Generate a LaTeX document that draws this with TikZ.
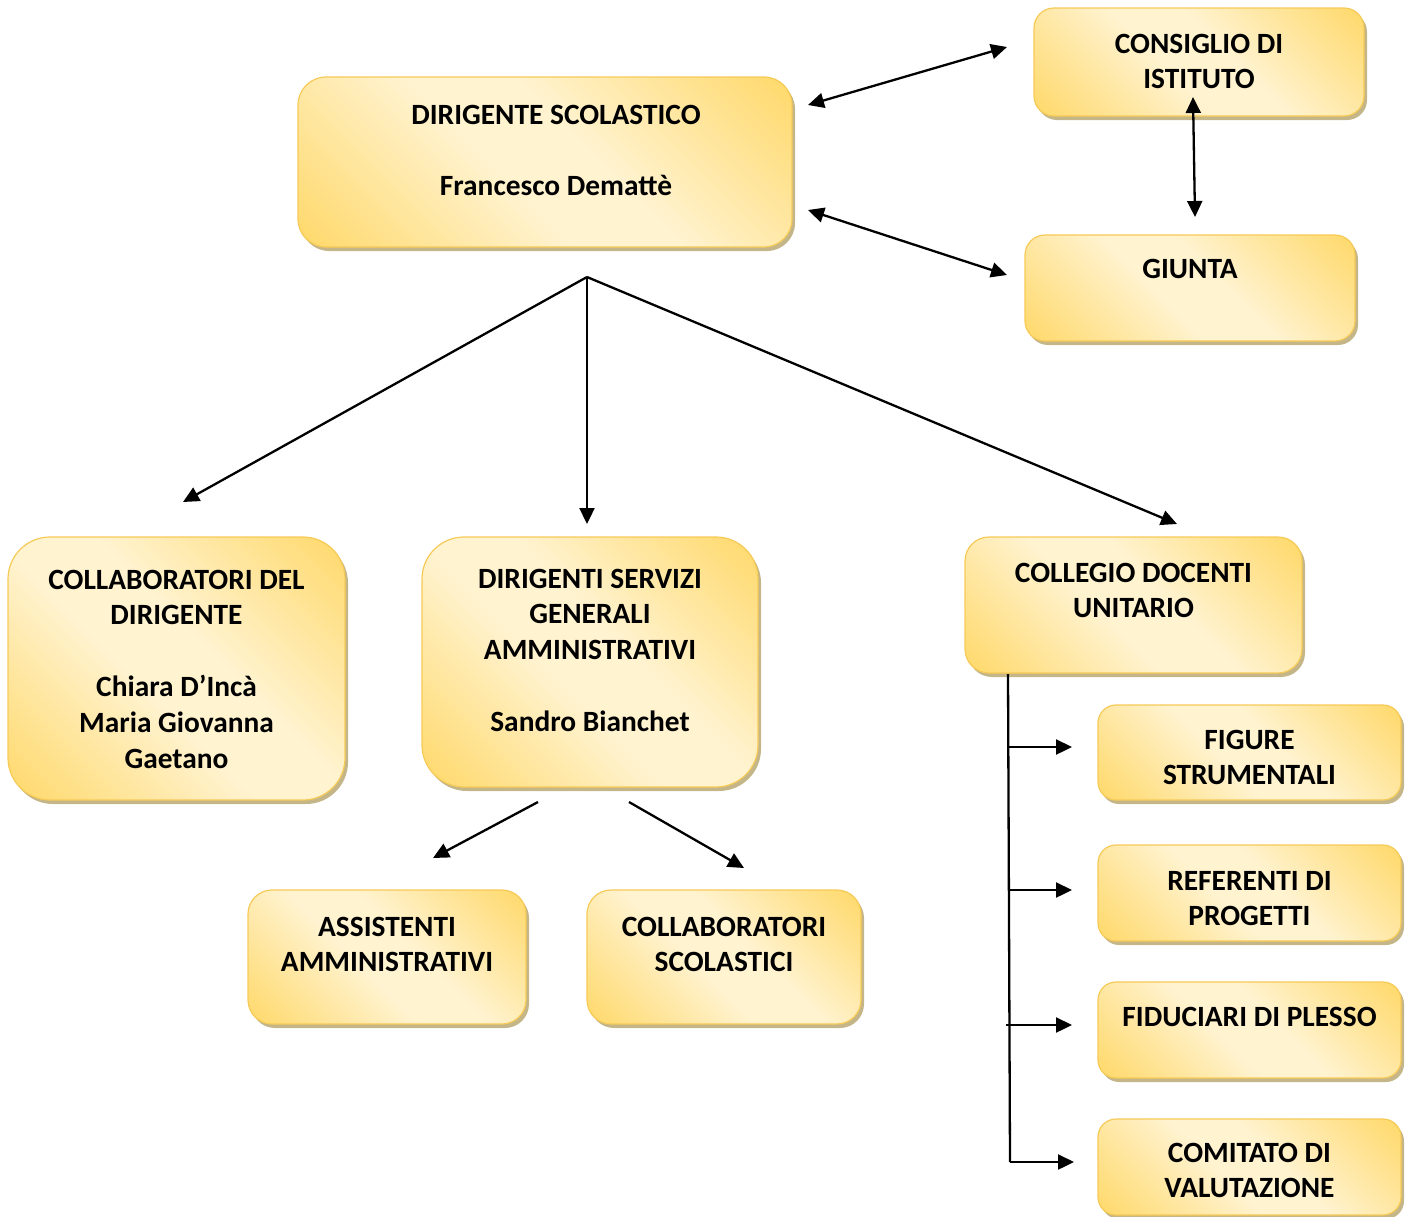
\documentclass[tikz,border=0pt]{standalone}
\usepackage{fontspec}
\setmainfont{Carlito}
\usetikzlibrary{arrows.meta,shadows}
\definecolor{gd}{RGB}{255,214,96}
\definecolor{cr}{RGB}{255,243,208}
\definecolor{bd}{RGB}{246,202,86}
\definecolor{sh}{RGB}{196,182,136}
\pgfdeclarehorizontalshading{goldglow}{100bp}{color(0bp)=(gd); color(12bp)=(gd); color(44bp)=(cr); color(56bp)=(cr); color(88bp)=(gd); color(100bp)=(gd)}
\newcommand\boxtext[4]{\parbox[c][#2pt][t]{#1pt}{\centering\rule{0pt}{#3pt}#4}}
\tikzset{
  orgbox/.style={draw=bd, line width=1.2pt, shading=goldglow, shading angle=45,
    inner sep=0pt, outer sep=0pt, anchor=north west,
    drop shadow={shadow xshift=3pt, shadow yshift=-4pt, fill=sh, opacity=1}},
  conn/.style={line width=2.3pt, -{Triangle[length=16pt,width=15pt]}},
  bothconn/.style={line width=2.3pt, {Triangle[length=16pt,width=15pt]}-{Triangle[length=16pt,width=15pt]}},
  plain/.style={line width=2.3pt}
}
\begin{document}
\begin{tikzpicture}[x=1pt, y=-1pt, font=\fontsize{29.4}{35.8}\selectfont\bfseries]
\useasboundingbox (0,0) rectangle (1413,1216);
% boxes
\node[orgbox, rounded corners=28pt] (ds) at (298,77)
  {\hspace*{22pt}\boxtext{472}{170}{47}{DIRIGENTE SCOLASTICO\\[35.8pt]Francesco Demattè}};
\node[orgbox, rounded corners=20pt] (cons) at (1034,8)
  {\boxtext{330}{108}{45}{CONSIGLIO DI\\ISTITUTO}};
\node[orgbox, rounded corners=20pt] (giunta) at (1025,235)
  {\boxtext{330}{106}{43}{GIUNTA}};
\node[orgbox, rounded corners=42pt] (colldir) at (8,537)
  {\boxtext{337}{263}{52}{COLLABORATORI DEL\\DIRIGENTE\\[35.8pt]Chiara D’Incà\\Maria Giovanna\\Gaetano}};
\node[orgbox, rounded corners=42pt] (dsga) at (422,537)
  {\boxtext{336}{250}{51}{DIRIGENTI SERVIZI\\GENERALI\\AMMINISTRATIVI\\[35.8pt]Sandro Bianchet}};
\node[orgbox, rounded corners=24pt] (collegio) at (965,537)
  {\boxtext{337}{136}{45}{COLLEGIO DOCENTI\\UNITARIO}};
\node[orgbox, rounded corners=18pt] (figure) at (1098,705)
  {\boxtext{303}{95}{44}{FIGURE\\STRUMENTALI}};
\node[orgbox, rounded corners=18pt] (referenti) at (1098,845)
  {\boxtext{303}{96}{45}{REFERENTI DI\\PROGETTI}};
\node[orgbox, rounded corners=18pt] (fiduciari) at (1098,982)
  {\boxtext{303}{96}{44}{FIDUCIARI DI PLESSO}};
\node[orgbox, rounded corners=18pt] (comitato) at (1098,1119)
  {\boxtext{303}{96}{43}{COMITATO DI\\VALUTAZIONE}};
\node[orgbox, rounded corners=24pt] (assist) at (248,890)
  {\boxtext{278}{134}{46}{ASSISTENTI\\AMMINISTRATIVI}};
\node[orgbox, rounded corners=24pt] (collscol) at (587,890)
  {\boxtext{274}{134}{46}{COLLABORATORI\\SCOLASTICI}};
% connector end points
\coordinate (dsA) at (808,105);
\coordinate (consA) at (1007,47);
\coordinate (dsB) at (808,210);
\coordinate (giuntaA) at (1007,275);
\coordinate (consB) at (1193,97);
\coordinate (giuntaB) at (1195,217);
\coordinate (hub) at (587,277);
\coordinate (colldirT) at (183,502);
\coordinate (dsgaT) at (587,524);
\coordinate (collegioT) at (1177,524);
\coordinate (dsgaL) at (538,802);
\coordinate (assistT) at (433,858);
\coordinate (dsgaR) at (629,802);
\coordinate (collscolT) at (744,868);
\coordinate (spineTop) at (1008,674);
\coordinate (spineBot) at (1010,1162);
\coordinate (s1) at (1009,747);
\coordinate (figureL) at (1072,747);
\coordinate (s2) at (1009,890);
\coordinate (referentiL) at (1072,890);
\coordinate (s3) at (1006,1025);
\coordinate (fiduciariL) at (1072,1025);
\coordinate (comitatoL) at (1074,1162);
% connectors
\draw[bothconn] (dsA) -- (consA);
\draw[bothconn] (dsB) -- (giuntaA);
\draw[bothconn] (consB) -- (giuntaB);
\draw[conn] (hub) -- (colldirT);
\draw[conn] (hub) -- (dsgaT);
\draw[conn] (hub) -- (collegioT);
\draw[conn] (dsgaL) -- (assistT);
\draw[conn] (dsgaR) -- (collscolT);
\draw[plain] (spineTop) -- (spineBot);
\draw[conn] (s1) -- (figureL);
\draw[conn] (s2) -- (referentiL);
\draw[conn] (s3) -- (fiduciariL);
\draw[conn] (spineBot) -- (comitatoL);
\end{tikzpicture}
\end{document}
